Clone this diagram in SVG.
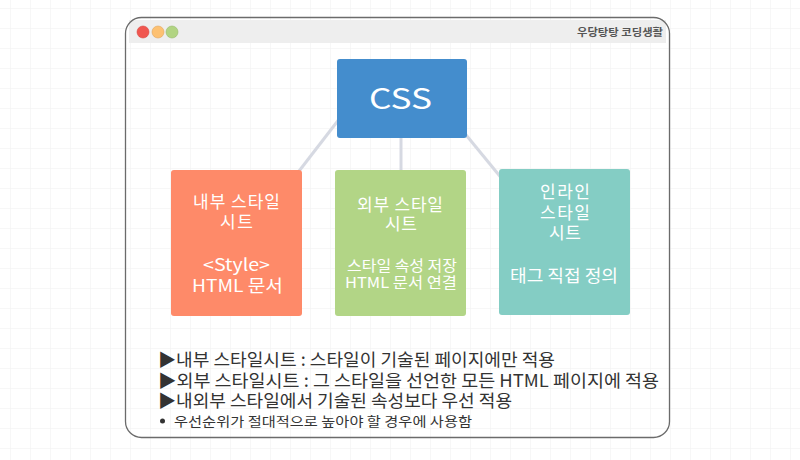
<svg xmlns="http://www.w3.org/2000/svg" width="800" height="460" viewBox="0 0 800 460">
<defs>
<pattern id="grid" x="10" y="8" width="20" height="20" patternUnits="userSpaceOnUse">
<path d="M0 0H20M0 0V20" fill="none" stroke="#f0f0f0" stroke-width="1"/>
</pattern>
<style>
.t{font-family:"Noto Sans CJK KR","Noto Sans",sans-serif;fill:#fff;text-anchor:middle}
.b{font-size:17px}
.s{font-size:15px}
.n{font-family:"Noto Sans CJK KR","Noto Sans",sans-serif;fill:#333;font-size:17.5px}
.sm{font-size:13px}
.c{stroke:#d6d9e2;stroke-width:3;fill:none}
</style>
</defs>
<rect width="800" height="460" fill="#fff"/>
<rect width="800" height="460" fill="url(#grid)"/>
<g id="window">
<rect x="129" y="20" width="537" height="23" fill="#eeeeee"/>
<rect x="125.5" y="17.5" width="544" height="420" rx="16" fill="none" stroke="#6b6b6b" stroke-width="1.3"/>
<circle cx="143" cy="32" r="6" fill="#f0564f" stroke="#d9473f" stroke-width="0.6"/>
<circle cx="158" cy="32" r="6" fill="#fdc172" stroke="#e0a55a" stroke-width="0.6"/>
<circle cx="172" cy="32" r="6" fill="#b1d482" stroke="#95b86a" stroke-width="0.6"/>
<text x="577" y="36" textLength="86" lengthAdjust="spacingAndGlyphs" font-family="Noto Sans CJK KR,Noto Sans,sans-serif" font-size="10.5" font-weight="bold" fill="#555">우당탕탕 코딩생활</text>
</g>
<g id="connectors">
<line class="c" x1="340" y1="118" x2="296" y2="175"/>
<line class="c" x1="401" y1="136" x2="401" y2="172"/>
<line class="c" x1="462" y1="130" x2="503" y2="180"/>
</g>
<g id="css">
<rect x="337" y="59" width="130" height="79" rx="3" fill="#448dcd"/>
<text class="t" x="400.5" y="109" style="font-size:28px" textLength="63" lengthAdjust="spacingAndGlyphs">CSS</text>
</g>
<g id="internal">
<rect x="171" y="170" width="131" height="146" rx="3" fill="#fe8a69"/>
<text class="t b" x="236.5" y="208" textLength="87">내부 스타일</text>
<text class="t b" x="236.5" y="228" textLength="33">시트</text>
<text class="t b" x="236.5" y="271" textLength="67" lengthAdjust="spacingAndGlyphs">&lt;Style&gt;</text>
<text class="t b" x="237.5" y="292" textLength="91" lengthAdjust="spacingAndGlyphs">HTML 문서</text>
</g>
<g id="external">
<rect x="335" y="170" width="131" height="146" rx="3" fill="#b2d586"/>
<text class="t b" x="400" y="211" textLength="86">외부 스타일</text>
<text class="t b" x="401" y="230" textLength="32">시트</text>
<text class="t s" x="402" y="271" textLength="110" lengthAdjust="spacingAndGlyphs">스타일 속성 저장</text>
<text class="t s" x="401" y="288" textLength="112" lengthAdjust="spacingAndGlyphs">HTML 문서 연결</text>
</g>
<g id="inline">
<rect x="499" y="169" width="131" height="146" rx="3" fill="#84cdc4"/>
<text class="t b" x="565" y="198" textLength="50">인라인</text>
<text class="t b" x="565" y="219" textLength="50">스타일</text>
<text class="t b" x="565" y="239" textLength="32">시트</text>
<text class="t b" x="564" y="282" textLength="108" lengthAdjust="spacingAndGlyphs">태그 직접 정의</text>
</g>
<g id="notes">
<text class="n" x="158" y="366" textLength="397" lengthAdjust="spacingAndGlyphs">▶내부 스타일시트 : 스타일이 기술된 페이지에만 적용</text>
<text class="n" x="158" y="387" textLength="501" lengthAdjust="spacingAndGlyphs">▶외부 스타일시트 : 그 스타일을 선언한 모든 HTML 페이지에 적용</text>
<text class="n" x="158" y="407" textLength="354" lengthAdjust="spacingAndGlyphs">▶내외부 스타일에서 기술된 속성보다 우선 적용</text>
<circle cx="162.5" cy="421" r="2.5" fill="#333"/>
<text class="n sm" x="174" y="426" textLength="298" lengthAdjust="spacingAndGlyphs">우선순위가 절대적으로 높아야 할 경우에 사용함</text>
</g>
</svg>
